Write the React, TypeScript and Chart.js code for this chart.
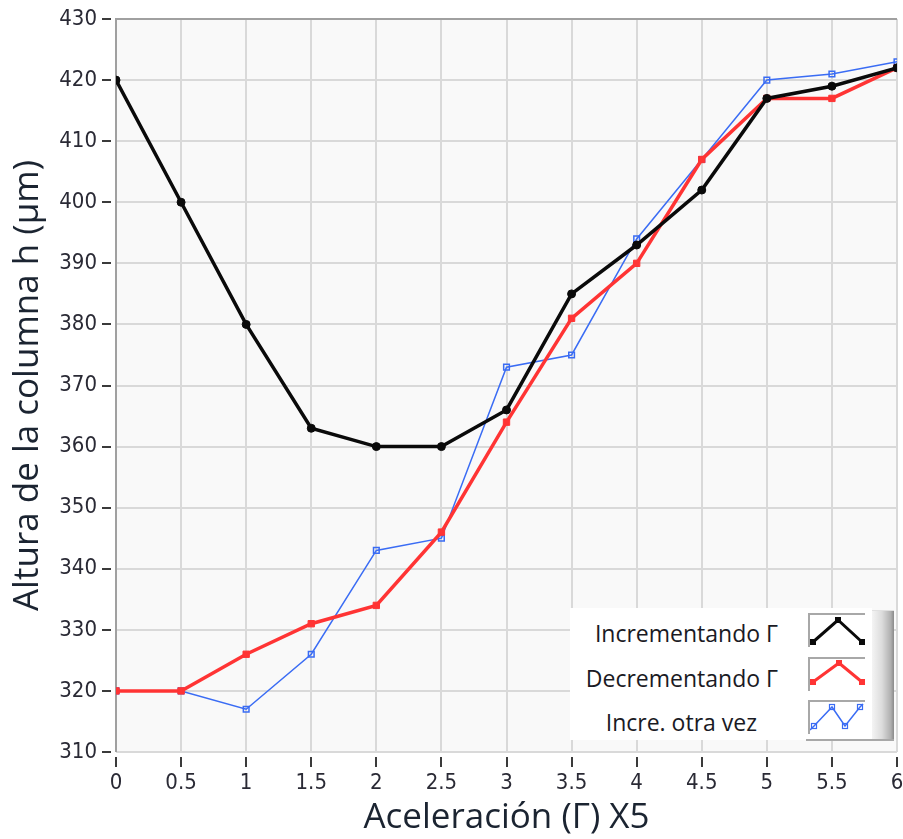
import React, { useEffect, useRef } from "react";
import { Chart, registerables } from "chart.js";

Chart.register(...registerables);

const xValues = [0, 0.5, 1, 1.5, 2, 2.5, 3, 3.5, 4, 4.5, 5, 5.5, 6];
const incrementando = [420, 400, 380, 363, 360, 360, 366, 385, 393, 402, 417, 419, 422];
const decrementando = [320, 320, 326, 331, 334, 346, 364, 381, 390, 407, 417, 417, 422];
const increOtraVez = [320, 320, 317, 326, 343, 345, 373, 375, 394, 407, 420, 421, 423];

const seriesNames = ["Incrementando \u0393", "Decrementando \u0393", "Incre. otra vez"];
const xTitle = "Aceleraci\u00f3n (\u0393) X5";
const yTitle = "Altura de la columna h (\u03bcm)";

const BLACK = "#0a0a0a";
const RED = "#ff3434";
const BLUE = "#3a6cf4";

const toPts = (ys: number[]) => xValues.map((x, i) => ({ x, y: ys[i] }));

const framePlugin = {
  id: "frame",
  beforeDraw(chart: any) {
    const { ctx, chartArea: a } = chart;
    ctx.save();
    ctx.fillStyle = "#f9f9f9";
    ctx.fillRect(a.left, a.top, a.right - a.left, a.bottom - a.top);
    ctx.restore();
  },
  beforeDatasetsDraw(chart: any) {
    const { ctx, chartArea: a, scales } = chart;
    ctx.save();
    ctx.strokeStyle = "#a0a0a0";
    ctx.lineWidth = 2;
    ctx.beginPath();
    ctx.moveTo(a.left, a.bottom);
    ctx.lineTo(a.left, a.top);
    ctx.lineTo(a.right, a.top);
    ctx.stroke();
    ctx.strokeStyle = "#3a3a3a";
    ctx.lineWidth = 2;
    ctx.beginPath();
    scales.x.ticks.forEach((t: any) => {
      const px = Math.round(scales.x.getPixelForValue(t.value));
      ctx.moveTo(px, a.bottom + 5);
      ctx.lineTo(px, a.bottom + 15);
    });
    scales.y.ticks.forEach((t: any) => {
      const py = Math.round(scales.y.getPixelForValue(t.value));
      ctx.moveTo(a.left - 14, py);
      ctx.lineTo(a.left - 5, py);
    });
    ctx.stroke();
    ctx.restore();
  },
};

const legendText: React.CSSProperties = {
  position: "absolute",
  right: 903 - 778,
  fontFamily: "'Open Sans', sans-serif",
  fontSize: 23,
  color: "#1a1a24",
  whiteSpace: "nowrap",
  lineHeight: "26px",
};

const sampleBox = (top: number): React.CSSProperties => ({
  position: "absolute",
  left: 808,
  top,
  width: 57,
  height: 34,
  background: "#ffffff",
  borderTop: "2px solid #a8a8a8",
  borderLeft: "2px solid #a8a8a8",
  boxSizing: "border-box",
});

const tickFont = { family: "'DejaVu Sans Condensed', 'DejaVu Sans', sans-serif", size: 22 };
const titleFont = { family: "'Open Sans', sans-serif", size: 35 };

export default function App() {
  const ref = useRef<HTMLCanvasElement>(null);

  useEffect(() => {
    document.body.style.margin = "0";
    const chart = new Chart(ref.current as HTMLCanvasElement, {
      type: "line",
      data: {
        datasets: [
          {
            label: seriesNames[0],
            data: toPts(incrementando),
            borderColor: BLACK,
            backgroundColor: BLACK,
            borderWidth: 3.5,
            pointStyle: "circle",
            pointRadius: 4,
            pointBorderWidth: 1,
            pointBackgroundColor: BLACK,
            tension: 0,
          },
          {
            label: seriesNames[1],
            data: toPts(decrementando),
            borderColor: RED,
            backgroundColor: RED,
            borderWidth: 3.5,
            pointStyle: "rect",
            pointRadius: 4.5,
            pointBorderWidth: 1,
            pointBackgroundColor: RED,
            tension: 0,
          },
          {
            label: seriesNames[2],
            data: toPts(increOtraVez),
            borderColor: BLUE,
            backgroundColor: "rgba(255,255,255,0)",
            borderWidth: 1.5,
            pointStyle: "rect",
            pointRadius: 4,
            pointBorderWidth: 1.5,
            pointBorderColor: BLUE,
            pointBackgroundColor: "rgba(255,255,255,0)",
            tension: 0,
          },
        ],
      },
      options: {
        animation: false,
        responsive: false,
        maintainAspectRatio: false,
        layout: { padding: { top: 19, right: 6, left: 0, bottom: 0 } },
        plugins: { legend: { display: false }, tooltip: { enabled: false }, title: { display: false } },
        scales: {
          x: {
            type: "linear",
            min: 0,
            max: 6,
            ticks: {
              stepSize: 0.5,
              padding: 18,
              color: "#2a2a35",
              font: tickFont,
              maxRotation: 0,
              autoSkip: false,
              callback: (v: any) => String(v),
            },
            grid: { color: "#d9d9d9", lineWidth: 2, drawTicks: false },
            border: { display: false },
            title: {
              display: true,
              text: xTitle,
              color: "#1b2431",
              font: titleFont,
              padding: { top: 0, bottom: 0 },
            },
            afterFit: (s: any) => {
              s.height = 839 - 752;
              s.paddingLeft = 0;
              s.paddingRight = 0;
            },
          },
          y: {
            type: "linear",
            min: 310,
            max: 430,
            ticks: {
              stepSize: 10,
              padding: 19,
              color: "#2a2a35",
              font: tickFont,
              callback: (v: any) => String(v),
            },
            grid: { color: "#d9d9d9", lineWidth: 2, drawTicks: false },
            border: { display: false },
            title: {
              display: true,
              text: yTitle,
              color: "#1b2431",
              font: titleFont,
              padding: { top: 7, bottom: 0 },
            },
            afterFit: (s: any) => {
              s.width = 116;
              s.paddingTop = 0;
              s.paddingBottom = 0;
            },
          },
        },
      } as any,
      plugins: [framePlugin],
    });
    return () => chart.destroy();
  }, []);

  return (
    <div style={{ position: "absolute", left: 0, top: 0, width: 903, height: 839, background: "#fff" }}>
      <canvas ref={ref} width={903} height={839} style={{ display: "block", width: 903, height: 839 }} />
      <div style={{ position: "absolute", left: 570, top: 608, width: 302, height: 132, background: "#ffffff" }} />
      <div style={{ ...legendText, top: 620 }}>{seriesNames[0]}</div>
      <div style={{ ...legendText, top: 665 }}>{seriesNames[1]}</div>
      <div style={{ ...legendText, top: 709, right: 903 - 757 }}>{seriesNames[2]}</div>
      <div style={sampleBox(613)}>
        <svg width={55} height={32} style={{ position: "absolute", left: 0, top: 0 }}>
          <polyline points="3,27 28,5 52,27" fill="none" stroke={BLACK} strokeWidth={3} />
          <rect x={0} y={24} width={6} height={6} fill={BLACK} />
          <rect x={25} y={2} width={6} height={6} fill={BLACK} />
          <rect x={49} y={24} width={6} height={6} fill={BLACK} />
        </svg>
      </div>
      <div style={sampleBox(657)}>
        <svg width={55} height={32} style={{ position: "absolute", left: 0, top: 0 }}>
          <polyline points="3,23 29,4 52,23" fill="none" stroke={RED} strokeWidth={3} />
          <rect x={0} y={20} width={6} height={6} fill={RED} />
          <rect x={26} y={1} width={6} height={6} fill={RED} />
          <rect x={49} y={20} width={6} height={6} fill={RED} />
        </svg>
      </div>
      <div style={sampleBox(700)}>
        <svg width={55} height={33} style={{ position: "absolute", left: 0, top: 0 }}>
          <polyline points="0,28 4,24 22,5 35,24 50,5 53,2" fill="none" stroke={BLUE} strokeWidth={1.5} />
          <rect x={1.5} y={21.5} width={5} height={5} fill="none" stroke={BLUE} strokeWidth={1.2} />
          <rect x={19.5} y={2.5} width={5} height={5} fill="none" stroke={BLUE} strokeWidth={1.2} />
          <rect x={32.5} y={21.5} width={5} height={5} fill="none" stroke={BLUE} strokeWidth={1.2} />
          <rect x={47.5} y={2.5} width={5} height={5} fill="none" stroke={BLUE} strokeWidth={1.2} />
        </svg>
      </div>
      <div
        style={{
          position: "absolute",
          left: 872,
          top: 610,
          width: 22,
          height: 130,
          background: "linear-gradient(to right, #f4f4f4 0%, #dcdcdc 45%, #b0b0b0 85%, #8a8a8a 100%)",
          borderTop: "1px solid #e0e0e0",
          boxSizing: "border-box",
        }}
      />
      <div style={{ position: "absolute", left: 806, top: 739, width: 88, height: 2, background: "#a8a8a8" }} />
    </div>
  );
}
